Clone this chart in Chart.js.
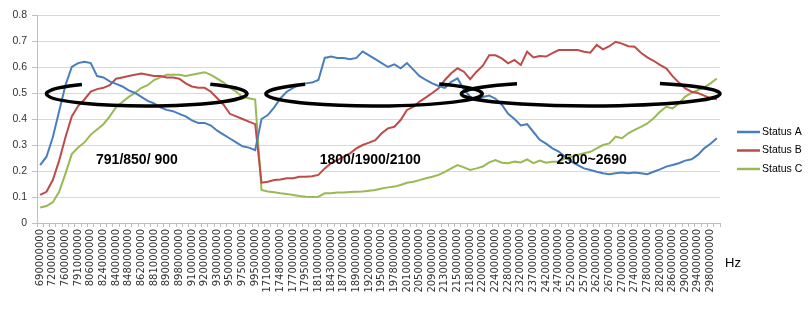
<!DOCTYPE html>
<html>
<head>
<meta charset="utf-8">
<script src="https://cdn.jsdelivr.net/npm/chart.js@4"></script>
<style>
  body { margin: 0; background: #fff; }
</style>
</head>
<body>
<canvas id="chartStatus" width="808" height="334"></canvas>
<script>
// tick labels (every other category carries a label)
const freqLabels = [
  "690000000", "720000000", "760000000", "791000000", "806000000", "824000000",
  "840000000", "848000000", "862000000", "881000000", "890000000", "898000000",
  "910000000", "920000000", "930000000", "950000000", "975000000", "995000000",
  "1710000000", "1748000000", "1770000000", "1795000000", "1810000000", "1843000000",
  "1870000000", "1890000000", "1920000000", "1950000000", "1978000000", "2010000000",
  "2050000000", "2090000000", "2130000000", "2150000000", "2180000000", "2200000000",
  "2240000000", "2280000000", "2320000000", "2370000000", "2420000000", "2470000000",
  "2520000000", "2570000000", "2620000000", "2670000000", "2700000000", "2740000000",
  "2780000000", "2820000000", "2860000000", "2900000000", "2940000000", "2980000000",
];

const statusA = [
  0.223, 0.255, 0.33, 0.43, 0.53, 0.6, 0.615, 0.62, 0.615, 0.565,
  0.56, 0.545, 0.535, 0.525, 0.51, 0.5, 0.485, 0.47, 0.46, 0.445,
  0.435, 0.43, 0.42, 0.41, 0.395, 0.385, 0.385, 0.375, 0.355, 0.34,
  0.325, 0.31, 0.295, 0.29, 0.28, 0.4, 0.415, 0.445, 0.48, 0.505,
  0.52, 0.53, 0.537, 0.54, 0.55, 0.635, 0.64, 0.635, 0.635, 0.63,
  0.635, 0.66, 0.645, 0.63, 0.615, 0.6, 0.61, 0.595, 0.615, 0.59,
  0.565, 0.55, 0.537, 0.527, 0.52, 0.543, 0.556, 0.514, 0.486, 0.473,
  0.485, 0.49, 0.478, 0.455, 0.42, 0.4, 0.375, 0.38, 0.35, 0.32,
  0.305, 0.287, 0.275, 0.255, 0.236, 0.223, 0.21, 0.204, 0.197, 0.191,
  0.188, 0.191, 0.194, 0.191, 0.194, 0.191, 0.188, 0.197, 0.206, 0.217,
  0.223, 0.23, 0.24, 0.245, 0.262, 0.287, 0.305, 0.326,
];

const statusB = [
  0.108, 0.12, 0.165, 0.24, 0.33, 0.41, 0.45, 0.475, 0.505, 0.515,
  0.52, 0.53, 0.555, 0.56, 0.565, 0.57, 0.575, 0.57, 0.565, 0.565,
  0.56, 0.56, 0.555, 0.537, 0.525, 0.52, 0.52, 0.505, 0.48, 0.455,
  0.42, 0.41, 0.4, 0.39, 0.38, 0.155, 0.159, 0.165, 0.167, 0.172,
  0.172, 0.178, 0.178, 0.18, 0.185, 0.21, 0.23, 0.242, 0.255, 0.268,
  0.287, 0.3, 0.309, 0.319, 0.345, 0.364, 0.37, 0.396, 0.435, 0.447,
  0.467, 0.483, 0.5, 0.518, 0.55, 0.576, 0.595, 0.582, 0.553, 0.582,
  0.605, 0.645, 0.645, 0.633, 0.614, 0.627, 0.608, 0.659, 0.637, 0.642,
  0.64, 0.653, 0.665, 0.665, 0.665, 0.665, 0.659, 0.655, 0.685, 0.668,
  0.68, 0.697, 0.69, 0.68, 0.678, 0.655, 0.637, 0.624, 0.608, 0.595,
  0.565, 0.54, 0.518, 0.505, 0.5, 0.49, 0.48, 0.476,
];

const statusC = [
  0.06, 0.065, 0.08, 0.12, 0.19, 0.265, 0.29, 0.31, 0.34, 0.36,
  0.38, 0.41, 0.445, 0.465, 0.485, 0.5, 0.52, 0.53, 0.55, 0.56,
  0.57, 0.57, 0.57, 0.565, 0.57, 0.575, 0.58, 0.57, 0.555, 0.54,
  0.52, 0.505, 0.485, 0.48, 0.475, 0.127, 0.121, 0.118, 0.114, 0.112,
  0.108, 0.104, 0.101, 0.1, 0.101, 0.114, 0.114, 0.117, 0.117, 0.119,
  0.12, 0.121, 0.124, 0.127, 0.133, 0.137, 0.14, 0.146, 0.155, 0.159,
  0.165, 0.172, 0.178, 0.185, 0.197, 0.21, 0.223, 0.214, 0.204, 0.21,
  0.217, 0.233, 0.242, 0.232, 0.23, 0.236, 0.233, 0.245, 0.23, 0.24,
  0.232, 0.236, 0.236, 0.249, 0.255, 0.262, 0.268, 0.274, 0.287, 0.3,
  0.306, 0.332, 0.326, 0.345, 0.358, 0.37, 0.383, 0.403, 0.428, 0.447,
  0.441, 0.46, 0.486, 0.5, 0.511, 0.522, 0.537, 0.556,
];

const seriesNames = ["Status A", "Status B", "Status C"];
const seriesColors = ["#4A7EBB", "#BE4B48", "#98B954"];

// band marks: positions in category units (0 = left edge) and y values
const bandNotes = [
  { text: "791/850/ 900", at: 15.8 },
  { text: "1800/1900/2100", at: 52.7 },
  { text: "2500~2690", at: 87.7 },
];
const bandRings = [
  { from: 1.5, to: 33.2, gapFrom: 7.1, gapTo: 27.4 },
  { from: 36.2, to: 70.4, gapFrom: 42.4, gapTo: 63.6 },
  { from: 67.1, to: 108, gapFrom: 75.9, gapTo: 98.5 },
];

const categories = freqLabels.flatMap((f) => [f, ""]);

const notesPlugin = {
  id: "notes",
  afterDraw(chart) {
    const ctx = chart.ctx;
    const area = chart.chartArea;
    const yScale = chart.scales.y;
    const step = area.width / categories.length;
    const xAt = (pos) => area.left + pos * step;

    // rings
    ctx.save();
    ctx.strokeStyle = "#000";
    ctx.lineWidth = 3.5;
    const cy = yScale.getPixelForValue(0.497);
    const ry = yScale.getPixelForValue(0.5) - yScale.getPixelForValue(0.547);
    bandRings.forEach((r) => {
      const x1 = xAt(r.from), x2 = xAt(r.to);
      const cx = (x1 + x2) / 2, rx = (x2 - x1) / 2;
      const a1 = Math.acos((xAt(r.gapTo) - cx) / rx);
      const a2 = Math.acos((xAt(r.gapFrom) - cx) / rx);
      ctx.beginPath();
      ctx.ellipse(cx, cy, rx, ry, 0, 2 * Math.PI - a1, 2 * Math.PI - a2 + 2 * Math.PI);
      ctx.stroke();
    });
    ctx.restore();

    // band texts
    ctx.save();
    ctx.fillStyle = "#000";
    ctx.font = "bold 14px 'Liberation Sans', Arial, sans-serif";
    ctx.textAlign = "center";
    ctx.textBaseline = "middle";
    const ty = yScale.getPixelForValue(0.242);
    bandNotes.forEach((n) => ctx.fillText(n.text, xAt(n.at), ty));
    ctx.restore();

    // unit
    ctx.save();
    ctx.fillStyle = "#000";
    ctx.font = "13px 'Liberation Sans', Arial, sans-serif";
    ctx.textBaseline = "middle";
    ctx.fillText("Hz", 725, 263);
    ctx.restore();

    // legend
    ctx.save();
    ctx.font = "10.5px 'Liberation Sans', Arial, sans-serif";
    ctx.textBaseline = "middle";
    chart.data.datasets.forEach((ds, i) => {
      const y = 132 + i * 18.5;
      ctx.strokeStyle = ds.borderColor;
      ctx.lineWidth = 2.5;
      ctx.beginPath();
      ctx.moveTo(737, y);
      ctx.lineTo(760, y);
      ctx.stroke();
      ctx.fillStyle = "#000";
      ctx.fillText(ds.label, 762, y);
    });
    ctx.restore();
  },
};

new Chart(document.getElementById("chartStatus").getContext("2d"), {
  type: "line",
  data: {
    labels: categories,
    datasets: [statusA, statusB, statusC].map((values, i) => ({
      label: seriesNames[i],
      data: values,
      borderColor: seriesColors[i],
      backgroundColor: seriesColors[i],
      borderWidth: 2,
      pointRadius: 0,
      tension: 0,
      fill: false,
    })),
  },
  options: {
    responsive: false,
    animation: false,
    layout: { padding: { top: 15, right: 88, left: 0, bottom: 0 } },
    plugins: {
      legend: { display: false },
      tooltip: { enabled: false },
    },
    scales: {
      x: {
        offset: true,
        grid: {
          offset: true,
          drawOnChartArea: false,
          tickLength: 4,
          color: "#bfbfbf",
        },
        border: { color: "#bfbfbf" },
        ticks: {
          autoSkip: false,
          minRotation: 90,
          maxRotation: 90,
          padding: 2,
          color: "#333",
          font: { family: "'DejaVu Sans', sans-serif", size: 10 },
        },
        afterFit: (scale) => {
          scale.height = 111;
        },
      },
      y: {
        min: 0,
        max: 0.8,
        ticks: {
          stepSize: 0.1,
          padding: 5,
          color: "#333",
          font: { family: "'Liberation Sans', Arial, sans-serif", size: 10.5 },
        },
        grid: { color: "#d9d9d9", tickColor: "#bfbfbf", tickLength: 5 },
        border: { color: "#bfbfbf" },
        afterFit: (scale) => {
          scale.width = 37;
        },
      },
    },
  },
  plugins: [notesPlugin],
});
</script>
</body>
</html>
